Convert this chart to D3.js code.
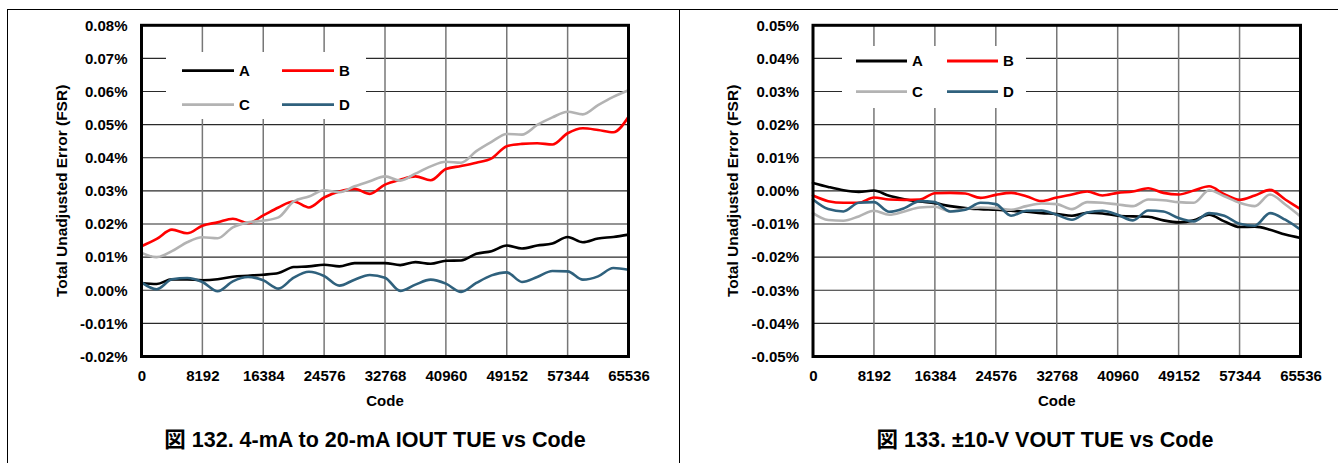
<!DOCTYPE html>
<html>
<head>
<meta charset="utf-8">
<script src="https://cdn.jsdelivr.net/npm/d3@7"></script>
<style>
  html, body { margin: 0; padding: 0; background: #fff; }
  svg { display: block; }
  text { font-family: "Liberation Sans", Arial, "Noto Sans CJK JP", sans-serif; font-weight: bold; fill: #000; }
</style>
</head>
<body>
<svg id="chart" width="1338" height="463"></svg>
<script>
// ---------------- data ----------------
const seriesNames = ["A", "B", "C", "D"];
const seriesColors = ["#000000", "#ff0000", "#b3b3b3", "#2f617d"];
const codes = d3.range(0, 65536 + 1, 2048);            // sampled DAC codes (x)
const xTickValues = [0, 8192, 16384, 24576, 32768, 40960, 49152, 57344, 65536];

// Figure 132: 4-mA to 20-mA IOUT TUE (values in %FSR)
const ioutTicks = [-0.02, -0.01, 0.00, 0.01, 0.02, 0.03, 0.04, 0.05, 0.06, 0.07, 0.08];
const ioutA = [0.0022,0.0019,0.0033,0.0033,0.0030,0.0033,0.0041,0.0044,0.0047,0.0052,0.0070,0.0072,0.0077,0.0072,0.0082,0.0082,0.0082,0.0076,0.0085,0.0080,0.0089,0.0090,0.0110,0.0118,0.0135,0.0126,0.0135,0.0141,0.0161,0.0145,0.0156,0.0161,0.0168];
const ioutB = [0.0133,0.0155,0.0183,0.0172,0.0195,0.0205,0.0216,0.0203,0.0226,0.0250,0.0268,0.0250,0.0280,0.0298,0.0306,0.0291,0.0319,0.0334,0.0344,0.0332,0.0366,0.0375,0.0385,0.0398,0.0435,0.0442,0.0444,0.0440,0.0474,0.0489,0.0484,0.0477,0.0524];
const ioutC = [0.0113,0.0100,0.0118,0.0145,0.0160,0.0157,0.0190,0.0205,0.0210,0.0220,0.0268,0.0283,0.0302,0.0296,0.0314,0.0329,0.0344,0.0331,0.0352,0.0374,0.0388,0.0385,0.0420,0.0448,0.0472,0.0470,0.0499,0.0522,0.0539,0.0531,0.0559,0.0584,0.0604];
const ioutD = [0.0024,0.0003,0.0033,0.0037,0.0025,-0.0003,0.0027,0.0040,0.0030,0.0005,0.0038,0.0056,0.0043,0.0014,0.0032,0.0046,0.0038,-0.0002,0.0017,0.0032,0.0020,-0.0005,0.0022,0.0045,0.0054,0.0025,0.0040,0.0058,0.0057,0.0032,0.0042,0.0067,0.0062];

// Figure 133: ±10-V VOUT TUE (values in %FSR)
const voutTicks = [-0.05, -0.04, -0.03, -0.02, -0.01, 0.00, 0.01, 0.02, 0.03, 0.04, 0.05];
const voutA = [0.0024,0.0012,0.0002,-0.0003,0.0001,-0.0015,-0.0025,-0.0032,-0.0037,-0.0046,-0.0052,-0.0055,-0.0057,-0.0060,-0.0063,-0.0067,-0.0070,-0.0075,-0.0066,-0.0068,-0.0075,-0.0077,-0.0078,-0.0089,-0.0095,-0.0089,-0.0072,-0.0092,-0.0109,-0.0108,-0.0117,-0.0132,-0.0142];
const voutB = [-0.0014,-0.0031,-0.0036,-0.0036,-0.0020,-0.0026,-0.0027,-0.0026,-0.0007,-0.0006,-0.0008,-0.0021,-0.0012,-0.0006,-0.0016,-0.0031,-0.0020,-0.0011,-0.0002,-0.0014,-0.0006,-0.0002,0.0008,-0.0006,-0.0011,0.0001,0.0014,-0.0010,-0.0027,-0.0014,0.0003,-0.0026,-0.0055];
const voutC = [-0.0067,-0.0088,-0.0090,-0.0077,-0.0060,-0.0072,-0.0062,-0.0050,-0.0048,-0.0062,-0.0055,-0.0050,-0.0052,-0.0057,-0.0046,-0.0038,-0.0040,-0.0055,-0.0034,-0.0036,-0.0041,-0.0046,-0.0026,-0.0028,-0.0034,-0.0036,0.0002,-0.0016,-0.0036,-0.0046,-0.0011,-0.0041,-0.0077];
const voutD = [-0.0026,-0.0055,-0.0062,-0.0036,-0.0034,-0.0063,-0.0052,-0.0031,-0.0034,-0.0062,-0.0057,-0.0036,-0.0040,-0.0075,-0.0060,-0.0059,-0.0072,-0.0087,-0.0065,-0.0060,-0.0072,-0.0089,-0.0059,-0.0062,-0.0082,-0.0092,-0.0067,-0.0075,-0.0099,-0.0105,-0.0067,-0.0087,-0.0117];

const xTitle = "Code";
const yTitle = "Total Unadjusted Error (FSR)";
const titles = ["図 132. 4-mA to 20-mA IOUT TUE vs Code", "図 133. ±10-V VOUT TUE vs Code"];

// ---------------- layout ----------------
const svg = d3.select("#chart");

// outer table frame
svg.append("line").attr("x1", 7.5).attr("x2", 1338).attr("y1", 9.5).attr("y2", 9.5).attr("stroke", "#000").attr("stroke-width", 1);
svg.append("line").attr("x1", 7.5).attr("x2", 7.5).attr("y1", 9).attr("y2", 463).attr("stroke", "#000").attr("stroke-width", 1);
svg.append("line").attr("x1", 679.5).attr("x2", 679.5).attr("y1", 9).attr("y2", 463).attr("stroke", "#000").attr("stroke-width", 1);

const panels = [
  { x0: 141.5, x1: 628.5, y0: 25.3, y1: 356.5, ticks: ioutTicks, series: [ioutA, ioutB, ioutC, ioutD],
    legend: { bx0: 166, by0: 52, bx1: 366, by1: 119, col: [182, 282], row: [70.7, 104.7], len: 52 },
    titleX: 375, yTitleX: 61 },
  { x0: 813, x1: 1300.5, y0: 25.3, y1: 356.5, ticks: voutTicks, series: [voutA, voutB, voutC, voutD],
    legend: { bx0: 842, by0: 46, bx1: 1026, by1: 108, col: [856, 947], row: [61, 91.7], len: 51 },
    titleX: 1045, yTitleX: 732.5 }
];

const fmt = d => (Math.abs(d) < 1e-9 ? 0 : d).toFixed(2) + "%";

panels.forEach((p, pi) => {
  const g = svg.append("g");
  const x = d3.scaleLinear().domain([0, 65536]).range([p.x0, p.x1]);
  const y = d3.scaleLinear().domain([p.ticks[0], p.ticks[p.ticks.length - 1]]).range([p.y1, p.y0]);

  // horizontal grid
  g.append("g").selectAll("line").data(p.ticks.slice(1, -1)).join("line")
    .attr("x1", p.x0).attr("x2", p.x1)
    .attr("y1", d => y(d)).attr("y2", d => y(d))
    .attr("stroke", "#2a2a2a").attr("stroke-width", 1.1);
  // vertical grid
  g.append("g").selectAll("line").data(xTickValues.slice(1, -1)).join("line")
    .attr("x1", d => x(d)).attr("x2", d => x(d))
    .attr("y1", p.y0).attr("y2", p.y1)
    .attr("stroke", "#777").attr("stroke-width", 1.5);

  // legend background (covers grid)
  const L = p.legend;
  g.append("rect").attr("x", L.bx0).attr("y", L.by0).attr("width", L.bx1 - L.bx0).attr("height", L.by1 - L.by0).attr("fill", "#fff");

  // series
  const line = d3.line().x((d, i) => x(codes[i])).y(d => y(d)).curve(d3.curveMonotoneX);
  p.series.forEach((s, si) => {
    g.append("path").datum(s).attr("d", line)
      .attr("fill", "none").attr("stroke", seriesColors[si]).attr("stroke-width", 2.6)
      .attr("stroke-linejoin", "round").attr("stroke-linecap", "round");
  });

  // legend items
  seriesNames.forEach((n, si) => {
    const cx = L.col[si % 2], cy = L.row[Math.floor(si / 2)];
    g.append("line").attr("x1", cx).attr("x2", cx + L.len).attr("y1", cy).attr("y2", cy)
      .attr("stroke", seriesColors[si]).attr("stroke-width", 2.8);
    g.append("text").attr("x", cx + L.len + 5).attr("y", cy).attr("dy", "0.36em")
      .attr("font-size", 15).text(n);
  });

  // axes (labels only)
  const ya = g.append("g").attr("transform", `translate(${p.x0},0)`)
    .call(d3.axisLeft(y).tickValues(p.ticks).tickFormat(fmt).tickSize(0).tickPadding(14));
  ya.select(".domain").remove();
  ya.selectAll("text").attr("font-size", 15).attr("font-family", null).style("font-weight", "bold");

  const xa = g.append("g").attr("transform", `translate(0,${p.y1})`)
    .call(d3.axisBottom(x).tickValues(xTickValues).tickFormat(d3.format("d")).tickSize(0).tickPadding(14));
  xa.select(".domain").remove();
  xa.selectAll("text").attr("font-size", 15).attr("font-family", null).style("font-weight", "bold");

  // plot border
  g.append("rect").attr("x", p.x0).attr("y", p.y0).attr("width", p.x1 - p.x0).attr("height", p.y1 - p.y0)
    .attr("fill", "none").attr("stroke", "#000").attr("stroke-width", 3);

  // axis titles
  g.append("text").attr("x", (p.x0 + p.x1) / 2).attr("y", 401).attr("dy", "0.36em")
    .attr("text-anchor", "middle").attr("font-size", 15).text(xTitle);
  g.append("text").attr("transform", `translate(${p.yTitleX},${(p.y0 + p.y1) / 2}) rotate(-90)`)
    .attr("dy", "0.36em").attr("text-anchor", "middle").attr("font-size", 15.5).text(yTitle);

  // chart title
  g.append("text").attr("x", p.titleX).attr("y", 439).attr("dy", "0.36em")
    .attr("text-anchor", "middle").attr("font-size", 21.5).text(titles[pi]);
});
</script>
</body>
</html>
